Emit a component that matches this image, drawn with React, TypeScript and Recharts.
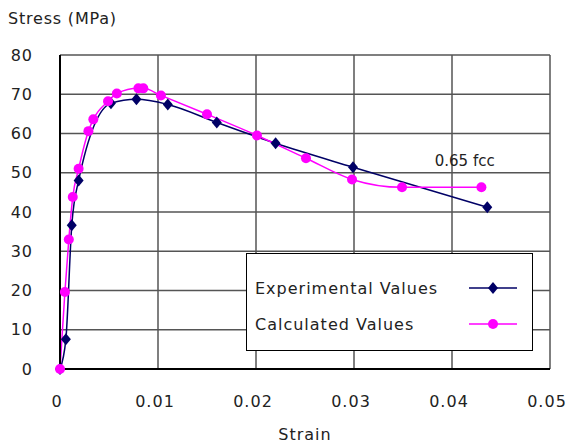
import {
  CartesianGrid,
  Line,
  LineChart,
  ReferenceDot,
  XAxis,
  YAxis,
} from "recharts";

const strainTicks = [0, 0.01, 0.02, 0.03, 0.04, 0.05];
const stressTicks = [0, 10, 20, 30, 40, 50, 60, 70, 80];

const expStrain = [0, 0.0006, 0.0012, 0.0019, 0.0052, 0.0078, 0.011, 0.016, 0.022, 0.0299, 0.0436];
const expStress = [0, 7.6, 36.6, 48, 67.7, 68.7, 67.4, 62.8, 57.5, 51.4, 41.2];

const calcStrain = [
  0, 0.0005, 0.0009, 0.0013, 0.0019, 0.0029, 0.0034, 0.0049, 0.0058, 0.008, 0.0085, 0.0103,
  0.015, 0.0201, 0.0251, 0.0298, 0.0349, 0.043,
];
const calcStress = [
  0, 19.6, 33, 43.8, 51, 60.6, 63.6, 68.2, 70.2, 71.5, 71.5, 69.7, 64.9, 59.5, 53.7, 48.3,
  46.3, 46.3,
];

const expData = expStrain.map((s, i) => ({ strain: s, stress: expStress[i] }));
const calcData = calcStrain.map((s, i) => ({ strain: s, stress: calcStress[i] }));

const NAVY = "#000066";
const MAGENTA = "#ff00ff";
const FONT = "'DejaVu Sans', Verdana, sans-serif";

function Diamond({ cx, cy }: { cx?: number; cy?: number }) {
  if (cx == null || cy == null) return null;
  return (
    <path
      d={`M${cx},${cy - 6} L${cx + 5},${cy} L${cx},${cy + 6} L${cx - 5},${cy} Z`}
      fill={NAVY}
    />
  );
}

function LegendBox() {
  const rows = [
    { name: "Experimental Values", color: NAVY, diamond: true },
    { name: "Calculated Values", color: MAGENTA, diamond: false },
  ];
  return (
    <div
      style={{
        position: "absolute",
        left: 246,
        top: 253,
        width: 287,
        height: 98,
        border: "1.5px solid #000",
        background: "#fff",
        boxSizing: "border-box",
        fontFamily: FONT,
        fontSize: 16,
        letterSpacing: 1,
        color: "#222",
      }}
    >
      {rows.map((r, i) => (
        <div
          key={r.name}
          style={{
            position: "absolute",
            left: 8,
            top: 22 + i * 36,
            height: 24,
            width: 272,
            display: "flex",
            alignItems: "center",
          }}
        >
          <span style={{ flex: 1, textAlign: "left", whiteSpace: "nowrap" }}>{r.name}</span>
          <svg width={48} height={14} style={{ marginRight: 10 }}>
            <line x1={0} y1={7} x2={48} y2={7} stroke={r.color} strokeWidth={1.5} />
            {r.diamond ? (
              <path d="M24,1 L29,7 L24,13 L19,7 Z" fill={r.color} />
            ) : (
              <circle cx={24} cy={7} r={5} fill={r.color} />
            )}
          </svg>
        </div>
      ))}
    </div>
  );
}

export default function App() {
  return (
    <div style={{ position: "absolute", left: 0, top: 0, width: 566, height: 446, background: "#fff" }}>
      <LineChart
        width={566}
        height={446}
        margin={{ top: 55, right: 16, bottom: 0, left: 0 }}
      >
        <CartesianGrid stroke="#555" strokeWidth={1.5} />
        <XAxis
          type="number"
          dataKey="strain"
          domain={[0, 0.05]}
          ticks={strainTicks}
          height={77}
          tickLine={false}
          axisLine={{ stroke: "#000", strokeWidth: 2 }}
          tickMargin={21}
          tick={{ fontSize: 16, fill: "#222", fontFamily: FONT, letterSpacing: 1, dx: -3 }}
          label={{
            value: "Strain",
            position: "insideBottom",
            offset: 6,
            fontSize: 16,
            fill: "#222",
            fontFamily: FONT,
            letterSpacing: 1,
          }}
        />
        <YAxis
          type="number"
          dataKey="stress"
          domain={[0, 80]}
          ticks={stressTicks}
          width={60}
          tickLine={false}
          axisLine={{ stroke: "#000", strokeWidth: 2 }}
          tickMargin={21}
          tick={{ fontSize: 16, fill: "#222", fontFamily: FONT, letterSpacing: 1 }}
          label={{
            content: () => (
              <text
                x={8}
                y={24}
                fontSize={16}
                fill="#222"
                fontFamily={FONT}
                letterSpacing={0.8}
              >
                Stress (MPa)
              </text>
            ),
          }}
        />
        <Line
          data={expData}
          dataKey="stress"
          name="Experimental Values"
          type="monotone"
          stroke={NAVY}
          strokeWidth={1.5}
          dot={<Diamond />}
          isAnimationActive={false}
        />
        <Line
          data={calcData}
          dataKey="stress"
          name="Calculated Values"
          type="monotone"
          stroke={MAGENTA}
          strokeWidth={1.5}
          dot={{ r: 5, fill: MAGENTA, stroke: MAGENTA, strokeWidth: 0 }}
          isAnimationActive={false}
        />
        <ReferenceDot
          x={0.0413}
          y={53}
          r={0}
          stroke="none"
          label={{
            value: "0.65 fcc",
            position: "center",
            fontSize: 15,
            fill: "#222",
            fontFamily: FONT,
          }}
        />
      </LineChart>
      <LegendBox />
    </div>
  );
}
